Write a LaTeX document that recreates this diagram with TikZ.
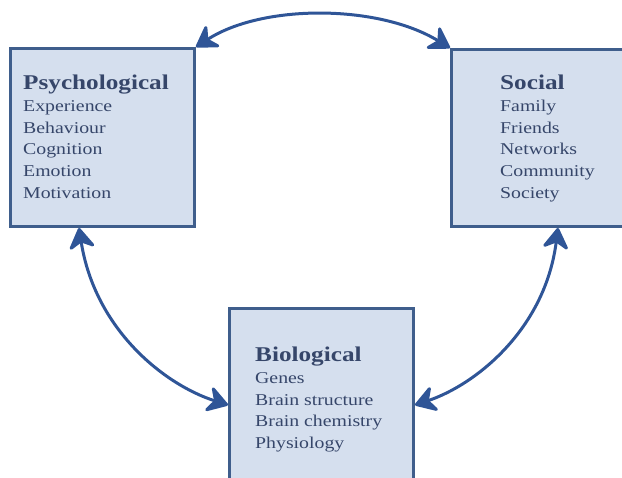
\documentclass[tikz,border=0pt]{standalone}
\usepackage{fontspec}
\setmainfont[FakeStretch=1.2]{Liberation Serif}
\usetikzlibrary{arrows.meta}
\definecolor{boxfill}{HTML}{D5DFEE}
\definecolor{boxline}{HTML}{3F5E8C}
\definecolor{arrowblue}{HTML}{2F5597}
\definecolor{textblue}{HTML}{36466A}
\tikzset{
  panel/.style={draw=boxline, fill=boxfill, line width=3pt, anchor=north west, inner sep=0pt},
  list/.style={anchor=north west, inner sep=0pt, align=left, text=textblue,
    font=\fontsize{16.5}{21.7}\selectfont},
  link/.style={draw=arrowblue, line width=3pt,
    arrows={Stealth[length=24pt, width=30pt, inset=8pt, round]-Stealth[length=24pt, width=30pt, inset=8pt, round]}},
}
\newcommand{\heading}[1]{{\fontsize{21}{22}\selectfont\bfseries #1}}
\begin{document}
\begin{tikzpicture}[x=1pt, y=-1pt]
  \useasboundingbox (0,0) rectangle (622,478);
  \clip (0,0) rectangle (622,478);
  % the three panels
  \node[panel, minimum width=184pt, minimum height=178pt] (psy) at (9,47) {};
  \node[panel, minimum width=190pt, minimum height=177pt] (soc) at (450,48) {};
  \node[panel, minimum width=184pt, minimum height=200pt] (bio) at (228,307) {};
  % panel texts
  \node[list] (psyt) at (23,75) {\heading{Psychological}\\Experience\\Behaviour\\Cognition\\Emotion\\Motivation};
  \node[list] (soct) at (500,75) {\heading{Social}\\Family\\Friends\\Networks\\Community\\Society};
  \node[list] (biot) at (255,347) {\heading{Biological}\\Genes\\Brain structure\\Brain chemistry\\Physiology};
  % ends of the curved links
  \coordinate (psyB) at ([xshift=70pt]psy.south west);
  \coordinate (socB) at ([xshift=108pt]soc.south west);
  \coordinate (bioL) at ([yshift=-98pt]bio.north west);
  \coordinate (bioR) at ([yshift=-98pt]bio.north east);
  % two-headed links between the panels
  \draw[link] (psy.north east) .. controls (262,4) and (378,4) .. (soc.north west);
  \draw[link] (psyB) .. controls (95,330) and (165,385) .. (bioL);
  \draw[link] (socB) .. controls (545,330) and (475,385) .. (bioR);
\end{tikzpicture}
\end{document}
